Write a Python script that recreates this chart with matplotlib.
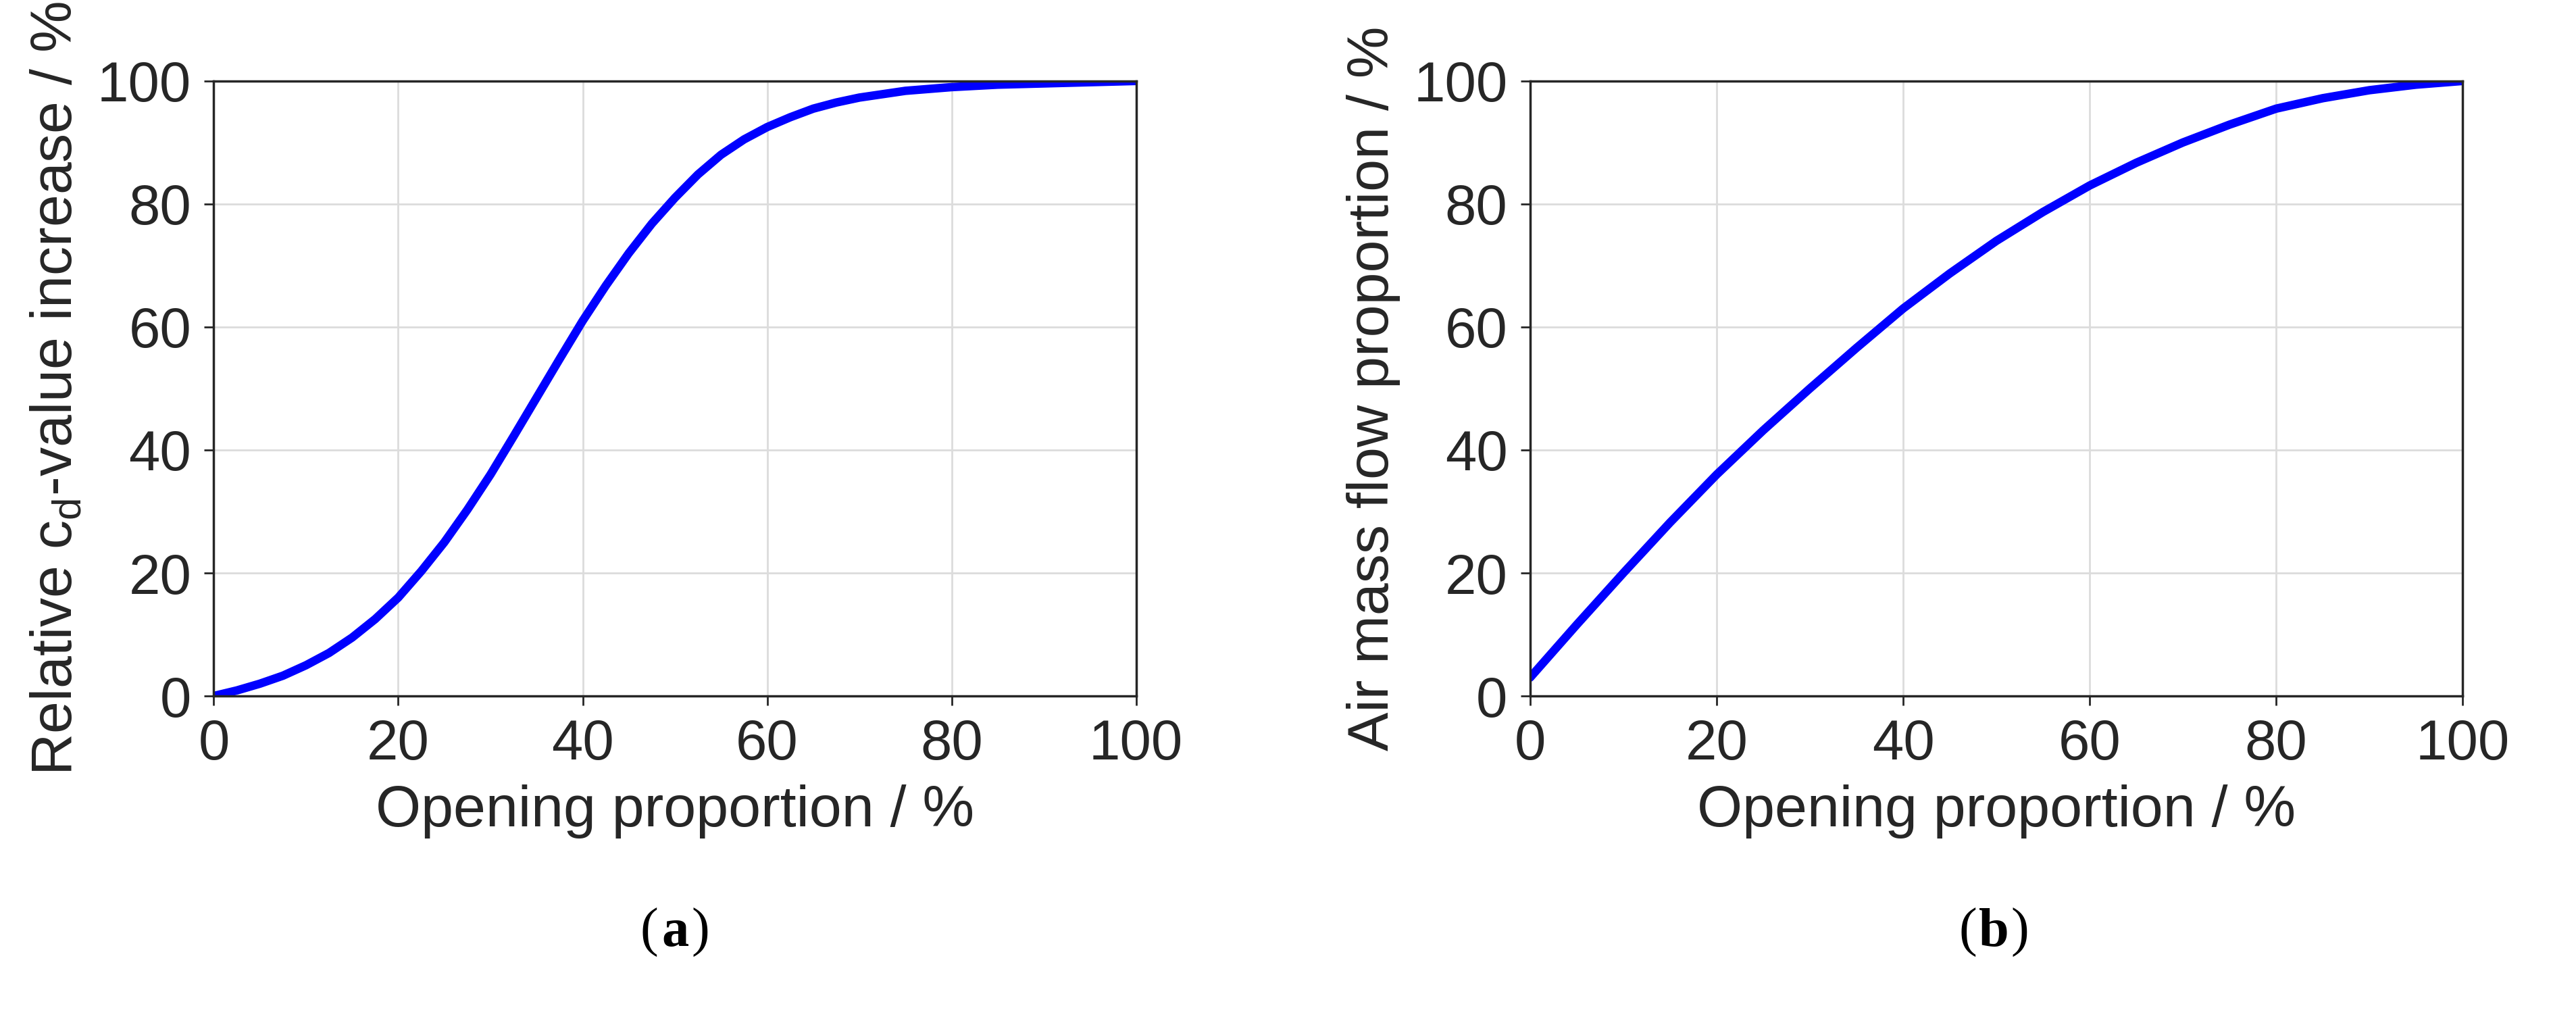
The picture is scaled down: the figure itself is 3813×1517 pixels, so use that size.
import numpy as np
import matplotlib.pyplot as plt

plt.rcParams['font.family'] = ['Liberation Sans', 'DejaVu Sans']

x_a = [0, 2.5, 5, 7.5, 10, 12.5, 15, 17.5, 20, 22.5, 25, 27.5, 30, 32.5, 35, 37.5, 40, 42.5,
       45, 47.5, 50, 52.5, 55, 57.5, 60, 62.5, 65, 67.5, 70, 75, 80, 85, 90, 95, 100]
cd_a = [0, 0.9, 2, 3.3, 5, 7, 9.5, 12.5, 16, 20.3, 25, 30.3, 36, 42.2, 48.5, 54.8, 61, 66.7,
        72, 76.8, 81, 84.8, 88, 90.5, 92.5, 94.1, 95.5, 96.5, 97.3, 98.4, 99, 99.4, 99.6, 99.8, 100]
x_b = [0, 5, 10, 15, 20, 25, 30, 35, 40, 45, 50, 55, 60, 65, 70, 75, 80, 85, 90, 95, 100]
flow_b = [3, 11.6, 20, 28.2, 36, 43.2, 50, 56.6, 63, 68.7, 74, 78.7, 83, 86.7, 90, 92.9, 95.5,
          97.2, 98.5, 99.4, 100]
ticks = [0, 20, 40, 60, 80, 100]

fig = plt.figure(figsize=(38.13, 15.17), dpi=100)
ax1 = fig.add_axes([0.083, 0.321, 0.358, 0.600])
ax2 = fig.add_axes([0.594, 0.321, 0.362, 0.600])

for ax, x, y, lab in [(ax1, x_a, cd_a, 'Relative c$_\\mathregular{d}$-value increase / %'),
                      (ax2, x_b, flow_b, 'Air mass flow proportion / %')]:
    ax.plot(x, y, color='#0000ff', lw=9, solid_capstyle='round', solid_joinstyle='round')
    ax.set_xlim(0, 100)
    ax.set_ylim(0, 100)
    ax.set_xticks(ticks)
    ax.set_yticks(ticks)
    ax.grid(True, color='#dcdcdc', lw=2)
    ax.tick_params(labelsize=60, length=10, width=2, color='#262626', labelcolor='#262626', pad=14)
    for s in ax.spines.values():
        s.set_linewidth(2.5)
        s.set_color('#262626')
    ax.set_xlabel('Opening proportion / %', fontsize=62, color='#262626', labelpad=14)
    ax.set_ylabel(lab, fontsize=62, color='#262626', labelpad=14)

for xc, letter in [(0.262, 'a'), (0.774, 'b')]:
    fig.text(xc, 0.09, letter, fontsize=58, family='Liberation Serif', weight='bold', ha='center', va='center')
    fig.text(xc - 0.0065, 0.09, '(', fontsize=58, family='Liberation Serif', ha='right', va='center')
    fig.text(xc + 0.0065, 0.09, ')', fontsize=58, family='Liberation Serif', ha='left', va='center')

fig.savefig('out.png', dpi=100, facecolor='white')
